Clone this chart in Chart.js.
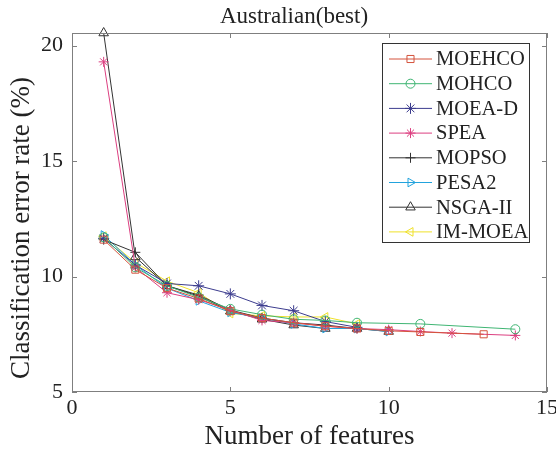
<!DOCTYPE html>
<html>
<head>
<meta charset="utf-8">
<script src="https://cdn.jsdelivr.net/npm/chart.js@4/dist/chart.umd.min.js"></script>
<style>
  html, body { margin: 0; padding: 0; background: #fff; }
</style>
</head>
<body>
<canvas id="chart" width="556" height="457"></canvas>
<script>
// series data (x = number of features, y = error rate %)
var xMOEHCO = [1, 2, 3, 4, 5, 6, 7, 8, 9, 10, 11, 13];
var yMOEHCO = [11.6, 10.3, 9.5, 9.05, 8.5, 8.2, 8.0, 7.85, 7.75, 7.65, 7.6, 7.5];
var xMOHCO = [1, 2, 3, 4, 5, 6, 7, 8, 9, 11, 14];
var yMOHCO = [11.7, 10.4, 9.6, 9.1, 8.6, 8.35, 8.15, 8.1, 8.0, 7.95, 7.72];
var xMOEAD = [1, 2, 3, 4, 5, 6, 7, 8, 9];
var yMOEAD = [11.65, 10.5, 9.7, 9.6, 9.25, 8.75, 8.52, 8.05, 7.8];
var xSPEA = [1, 2, 3, 4, 5, 6, 7, 8, 9, 10, 11, 12, 14];
var ySPEA = [19.3, 10.4, 9.3, 9.0, 8.55, 8.1, 8.0, 7.85, 7.75, 7.7, 7.62, 7.55, 7.45];
var xMOPSO = [1, 2, 3, 4, 5, 6, 7, 8, 9];
var yMOPSO = [11.6, 11.05, 9.6, 9.2, 8.55, 8.2, 8.0, 7.9, 7.75];
var xPESA2 = [1, 2, 3, 4, 5, 6, 7, 8, 9, 10];
var yPESA2 = [11.8, 10.5, 9.5, 8.95, 8.45, 8.2, 7.95, 7.75, 7.75, 7.62];
var xNSGA2 = [1, 2, 3, 4, 5, 6, 7, 8, 9, 10];
var yNSGA2 = [20.55, 10.85, 9.6, 9.15, 8.5, 8.15, 7.9, 7.75, 7.75, 7.62];
var xIMMOEA = [1, 2, 3, 4, 5, 6, 7, 8, 9];
var yIMMOEA = [11.75, 10.6, 9.8, 9.3, 8.4, 8.3, 8.25, 8.25, 7.95];

var seriesNames = ['MOEHCO', 'MOHCO', 'MOEA-D', 'SPEA', 'MOPSO', 'PESA2', 'NSGA-II', 'IM-MOEA'];
var xTicks = [0, 5, 10, 15];
var yTicks = [5, 10, 15, 20];

var serif = "'Liberation Serif', 'Times New Roman', serif";
var axisGray = '#7f7f7f';
var textColor = '#222';

function points(xs, ys) {
  var out = [];
  for (var i = 0; i < xs.length; i++) out.push({x: xs[i], y: ys[i]});
  return out;
}

function series(name, xs, ys, color, style, rot, r) {
  return {
    label: name,
    data: points(xs, ys),
    borderColor: color,
    backgroundColor: 'rgba(0,0,0,0)',
    borderWidth: 1,
    pointStyle: style,
    rotation: rot,
    pointRadius: r,
    pointBorderWidth: 1,
    pointBorderColor: color,
    pointBackgroundColor: 'rgba(0,0,0,0)',
    showLine: true,
    tension: 0,
    clip: false
  };
}

var datasets = [
  series(seriesNames[0], xMOEHCO, yMOEHCO, '#d4533c', 'rect', 0, 5),
  series(seriesNames[1], xMOHCO, yMOHCO, '#3fb573', 'circle', 0, 4.5),
  series(seriesNames[2], xMOEAD, yMOEAD, '#3c3c8e', 'star', 0, 5.5),
  series(seriesNames[3], xSPEA, ySPEA, '#dc3f80', 'star', 0, 5),
  series(seriesNames[4], xMOPSO, yMOPSO, '#333333', 'cross', 0, 5),
  series(seriesNames[5], xPESA2, yPESA2, '#22a3dd', 'triangle', 90, 5),
  series(seriesNames[6], xNSGA2, yNSGA2, '#333333', 'triangle', 0, 5.5),
  series(seriesNames[7], xIMMOEA, yIMMOEA, '#efe12a', 'triangle', 270, 5)
];

// matlab-like box, inward ticks, title, y label and legend
var matlabFrame = {
  id: 'matlabFrame',
  afterDatasetsDraw: function(chart) {
    var ctx = chart.ctx, a = chart.chartArea;
    var xs = chart.scales.x, ys = chart.scales.y;
    ctx.save();
    ctx.strokeStyle = axisGray;
    ctx.lineWidth = 1;
    ctx.strokeRect(a.left + 0.5, a.top + 0.5, a.right - a.left - 1, a.bottom - a.top - 1);
    ctx.beginPath();
    xTicks.forEach(function(t) {
      var px = Math.round(xs.getPixelForValue(t)) + 0.5;
      ctx.moveTo(px, a.bottom); ctx.lineTo(px, a.bottom - 5);
      ctx.moveTo(px, a.top); ctx.lineTo(px, a.top + 5);
    });
    yTicks.forEach(function(t) {
      var py = Math.round(ys.getPixelForValue(t)) + 0.5;
      ctx.moveTo(a.left, py); ctx.lineTo(a.left + 5, py);
      ctx.moveTo(a.right, py); ctx.lineTo(a.right - 5, py);
    });
    ctx.stroke();
    ctx.restore();
  },
  afterDraw: function(chart) {
    var ctx = chart.ctx;
    ctx.save();
    ctx.fillStyle = textColor;
    ctx.font = '23px ' + serif;
    ctx.textAlign = 'center';
    ctx.textBaseline = 'middle';
    ctx.fillText('Australian(best)', 294, 17);

    ctx.save();
    ctx.translate(22, 228);
    ctx.rotate(-Math.PI / 2);
    ctx.font = '27px ' + serif;
    ctx.fillText('Classification error rate (%)', 0, 0);
    ctx.restore();

    // legend
    var bx = 382, by = 43, bw = 147, bh = 199;
    ctx.fillStyle = '#fff';
    ctx.fillRect(bx, by, bw, bh);
    ctx.strokeStyle = '#333';
    ctx.lineWidth = 1;
    ctx.strokeRect(bx + 0.5, by + 0.5, bw, bh);
    ctx.font = '20.5px ' + serif;
    ctx.textAlign = 'left';
    chart.data.datasets.forEach(function(ds, i) {
      var y = 59 + i * 24.7;
      ctx.strokeStyle = ds.borderColor;
      ctx.beginPath();
      ctx.moveTo(389, y); ctx.lineTo(432, y);
      ctx.stroke();
      ctx.fillStyle = 'rgba(0,0,0,0)';
      Chart.helpers.drawPoint(ctx, {
        pointStyle: ds.pointStyle, rotation: ds.rotation,
        radius: ds.pointRadius, borderWidth: 1
      }, 410.5, y);
      ctx.fillStyle = textColor;
      ctx.fillText(ds.label, 436, y + 1);
    });
    ctx.restore();
  }
};

new Chart(document.getElementById('chart'), {
  type: 'scatter',
  data: { datasets: datasets },
  plugins: [matlabFrame],
  options: {
    responsive: false,
    animation: false,
    layout: { padding: { top: 33, right: 9, left: 0, bottom: 0 } },
    plugins: { legend: { display: false }, tooltip: { enabled: false } },
    scales: {
      x: {
        type: 'linear', min: 0, max: 15,
        grid: { display: false, drawTicks: false },
        border: { display: false },
        afterBuildTicks: function(s) { s.ticks = xTicks.map(function(v) { return {value: v}; }); },
        afterFit: function(s) { s.height = 65; s.paddingRight = 0; s.paddingLeft = 0; },
        ticks: { padding: 3, color: textColor, font: { family: serif, size: 22 } },
        title: { display: true, text: 'Number of features', color: textColor,
                 font: { family: serif, size: 27 }, padding: { top: 0, bottom: 4 } }
      },
      y: {
        type: 'linear', min: 5, max: 20.55,
        grid: { display: false, drawTicks: false },
        border: { display: false },
        afterBuildTicks: function(s) { s.ticks = yTicks.map(function(v) { return {value: v}; }); },
        afterFit: function(s) { s.width = 72; s.paddingTop = 0; s.paddingBottom = 0; },
        ticks: { padding: 9, color: textColor, font: { family: serif, size: 22 } }
      }
    }
  }
});
</script>
</body>
</html>
